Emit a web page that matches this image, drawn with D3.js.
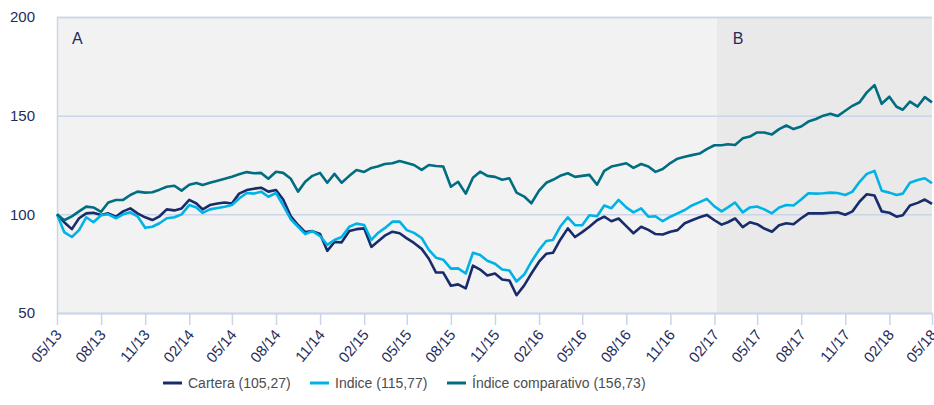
<!DOCTYPE html>
<html>
<head>
<meta charset="utf-8">
<script src="https://d3js.org/d3.v7.min.js"></script>
<style>
  body { margin: 0; background: #fff; }
  svg text { font-family: "Liberation Sans", Arial, sans-serif; }
</style>
</head>
<body>
<svg id="chart"></svg>
<script>
// half-month sampling, starting 05/13
let startDate = new Date(2013, 4, 1),
    endDate   = new Date(2018, 4, 1),
    periodB   = new Date(2017, 1, 6)

let cartera = [100,96,92.5,98,100.5,100.8,99.7,100.5,98.8,101.5,103,100.5,98.5,97.1,99,102.5,102,103,107.3,105.5,
  102.5,104.7,105.5,106,105.5,110.5,112.3,113,113.5,111.5,112.3,107.5,99,94.6,91,91.5,90,81.5,86,85.8,
  91.5,92.5,92.9,83.5,86.1,89.2,91.2,90.4,87.8,85.5,82.5,77.5,70.5,70.5,63.8,64.5,62.5,74,72,69,
  70,67,66.5,59,64,70,76,80,80.5,87,92.9,88.5,91,93.7,97,98.8,96.5,97.9,94,90.4,
  93.7,92.1,90,89.8,91.2,92,95.5,97,98.5,99.7,97,94.8,96,97.9,93.5,96,95,92.8,91.2,94.5,
  95.5,95,98,100.5,100.5,100.5,100.8,101,99.8,101.5,106.5,110.2,109.5,101.5,100.8,98.8,99.5,104.5,105.8,107.5,105.27]

let indice = [100,91,88.5,92,98.5,96,99.5,100,98,100,101,99,93.2,93.7,95.5,98,98.5,100,104.7,103.5,
  100.7,102.5,103.2,103.8,104.7,108,110.8,110.5,111.5,108.9,110.8,104.5,97.5,93.7,90,91.5,89,84.5,87,88.5,
  93.7,95.3,94.6,87,90.4,93,96.3,96.3,92,90.6,88,82,78,77,72.5,72.6,70,80.5,79.4,76.5,
  75,72,71.5,66,69.5,76,82,86.5,87,93.7,98.5,94.5,94.5,99.5,99,104.5,103.1,107.3,103.5,101,
  103,98.8,99,96.5,98.8,100.5,102.2,104.5,106.2,107.8,104,101.5,103.5,106,101,103.5,104,102.5,100.5,103.5,
  104.7,104.5,107.5,110.7,110.5,110.7,111,110.8,109.8,111.5,116.5,120.5,122,112,111,109.8,110.5,116,117.4,118.3,115.77]

let comparativo = [100,97,99,101.5,103.9,103.5,101.3,106,107.3,107.3,109.8,111.5,111,111.2,112.5,114,114.5,112,115,115.9,
  114.9,116,117,118,119.1,120.3,121.4,120.8,121,118,121.6,121,118,111.5,116.5,119.5,121,116,120.5,116,
  119.5,122.5,121.5,123.5,124.2,125.5,125.9,127,126,125,122.5,125,124.5,124.2,114,116.5,110.5,118.5,121.6,119.5,
  119,117.5,118.3,111,109,105.6,112,116,117.5,119.5,120.8,119,119.5,120,115,122,124.2,125,125.9,123.5,
  125.5,124.2,121.5,123,126,128.2,129.2,130,130.8,133,135,135,135.5,135.1,138.5,139.4,141.5,141.5,140.5,143.2,
  145,143.2,144.5,147,148.3,150,151,149.8,152.5,155,156.8,161.8,165.5,156,159.6,154.5,153,157.1,154.6,159.4,156.73]

let series = [
  {name: 'Cartera (105,27)',             values: cartera,     color: '#182c6b'},
  {name: 'Indice (115,77)',              values: indice,      color: '#00b3e6'},
  {name: 'Índice comparativo (156,73)',  values: comparativo, color: '#006d80'}
]
let yTicks = [50, 100, 150, 200]
let periodLabels = ['A', 'B']

let dates = cartera.map((d,i)=>{
    let m = d3.timeMonth.offset(startDate, Math.floor(i/2))
    return i % 2 ? d3.timeDay.offset(m, 15) : m
})
// quarterly ticks from 05/13 to 05/18
let xTicks = d3.timeMonth.range(startDate, d3.timeDay.offset(endDate, 1)).filter((d,i)=>i % 3 == 0)

let width   = 934,
    height  = 405,
    margin  = {top: 17, right: 2, bottom: 92, left: 57},
    gridCol = '#c9d5e8',
    textCol = '#1f2c5c'

let svg = d3.select('#chart')
            .attr('width', width)
            .attr('height', height)

let xScale = d3.scaleTime()
               .domain([startDate, endDate])
               .range([margin.left, width - margin.right])

let yScale = d3.scaleLinear()
               .domain([50, 200])
               .range([height - margin.bottom, margin.top])

// backgrounds for the two periods
svg.append('rect')
    .attr('x', xScale(startDate))
    .attr('y', yScale(200))
    .attr('width', xScale(periodB) - xScale(startDate))
    .attr('height', yScale(50) - yScale(200))
    .attr('fill', '#f2f2f2')

svg.append('rect')
    .attr('x', xScale(periodB))
    .attr('y', yScale(200))
    .attr('width', xScale(endDate) - xScale(periodB))
    .attr('height', yScale(50) - yScale(200))
    .attr('fill', '#e9e9e9')

svg.selectAll('.period')
    .data(periodLabels)
    .enter()
    .append('text')
    .attr('x', (d,i)=> i ? xScale(periodB) + 16 : xScale(startDate) + 15)
    .attr('y', yScale(200) + 27)
    .attr('fill', textCol)
    .style('font-size', '16px')
    .text(d=>d)

// y axis
let yAxis = svg.append('g')
    .attr('transform', `translate(${margin.left}, 0)`)
    .call(d3.axisLeft(yScale)
        .tickValues(yTicks)
        .tickSize(-(width - margin.right - margin.left))
        .tickPadding(22))

yAxis.select('.domain').attr('stroke', gridCol).attr('stroke-width', 1.5)
yAxis.selectAll('.tick line').attr('stroke', gridCol).attr('stroke-width', 1.5)
yAxis.selectAll('.tick text')
    .attr('fill', textCol)
    .style('font-size', '15px')

// x axis
let xAxis = svg.append('g')
    .attr('transform', `translate(0, ${yScale(50)})`)
    .call(d3.axisBottom(xScale)
        .tickValues(xTicks)
        .tickFormat(d3.timeFormat('%m/%y'))
        .tickSize(12)
        .tickSizeOuter(0))

xAxis.select('.domain').attr('stroke', gridCol).attr('stroke-width', 1.5)
xAxis.selectAll('.tick line').attr('stroke', gridCol).attr('stroke-width', 1.5)
xAxis.selectAll('.tick text')
    .attr('fill', textCol)
    .style('font-size', '15px')
    .style('text-anchor', 'end')
    .attr('y', 0)
    .attr('dy', 0)
    .attr('transform', 'translate(5, 22) rotate(-50)')

// lines
let line = d3.line()
             .x((d,i)=>xScale(dates[i]))
             .y(d=>yScale(d))

svg.selectAll('.serie')
    .data(series)
    .enter()
    .append('path')
    .classed('serie', true)
    .attr('d', d=>line(d.values))
    .attr('fill', 'none')
    .attr('stroke', d=>d.color)
    .attr('stroke-width', 2.6)
    .attr('stroke-linejoin', 'round')

// legend
let legendX = [163, 310, 447]
let legend = svg.selectAll('.legend')
    .data(series)
    .enter()
    .append('g')
    .classed('legend', true)
    .attr('transform', (d,i)=>`translate(${legendX[i]}, 383)`)

legend.append('line')
    .attr('x1', 0).attr('x2', 19)
    .attr('stroke', d=>d.color)
    .attr('stroke-width', 3)

legend.append('text')
    .attr('x', 25)
    .attr('dy', '0.36em')
    .attr('fill', '#4d4d4d')
    .style('font-size', '14px')
    .text(d=>d.name)
</script>
</body>
</html>
